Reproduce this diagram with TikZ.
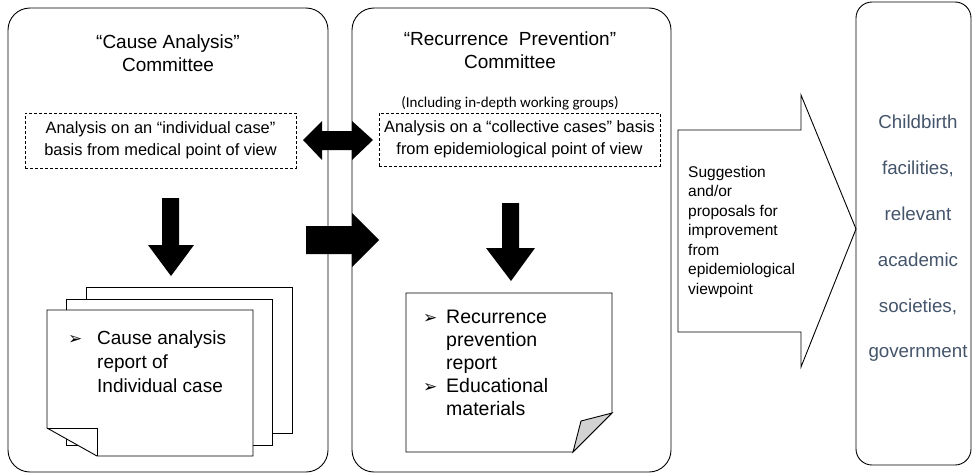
\documentclass[tikz,border=0pt]{standalone}
\usepackage{fontspec}
\setmainfont{Liberation Sans}
\newfontfamily\symfont{DejaVu Sans}
\newfontfamily\calfont{Carlito}
\usepackage{tikz}
\usetikzlibrary{positioning}
\definecolor{slate}{HTML}{44546A}
\tikzstyle{panel} = [rectangle, rounded corners=22pt, draw=black, line width=0.9pt]
\tikzstyle{dbox} = [rectangle, draw=black, dash pattern=on 3pt off 2pt, line width=0.7pt, align=center, font=\fontsize{16.4}{22}\selectfont]
\tikzstyle{blk} = [fill=black, draw=none]
\tikzstyle{sheet} = [fill=white, draw=black, line width=0.9pt]
\newcommand{\bul}{{\symfont\fontsize{17}{17}\selectfont ➢}}

\begin{document}
\begin{tikzpicture}[x=1pt, y=-1pt]
 \useasboundingbox (0,0) rectangle (973,474);

 % committees and receivers
 \node (cause) [panel, minimum width=320pt, minimum height=464pt] at (168,240) {};
 \node (recur) [panel, minimum width=319pt, minimum height=464pt] at (511.5,240) {};
 \node (target) [panel, rounded corners=16pt, minimum width=115pt, minimum height=463pt] at (913.5,233.5) {};

 \node (causetitle) [align=center, font=\fontsize{19}{23}\selectfont] at (168,53.5) {“Cause Analysis”\\Committee};
 \node (recurtitle) [align=center, font=\fontsize{19}{23}\selectfont] at (510,50) {“Recurrence\ \ Prevention”\\Committee};
 \node (wg) [font=\calfont\fontsize{15}{17}\selectfont] at (510,103) {(Including in-depth working groups)};

 \node (indiv) [dbox, minimum width=271pt, minimum height=55pt] at (160.5,140.5) {Analysis on an “individual case”\\basis from medical point of view};
 \node (collect) [dbox, minimum width=281pt, minimum height=53pt] at (519.5,139.5) {Analysis on a “collective cases” basis\\from epidemiological point of view};

 % block arrows
 \fill[blk] (303,140) -- (322,121) -- (322,131) -- (352,131) -- (352,121) -- (373,140) -- (352,160) -- (352,150) -- (322,150) -- (322,160) -- cycle;
 \fill[blk] (306,226) -- (352,226) -- (352,213) -- (379,240) -- (352,267) -- (352,254) -- (306,254) -- cycle;
 \fill[blk] (162,198) -- (179,198) -- (179,245) -- (194,245) -- (171,276) -- (148,245) -- (162,245) -- cycle;
 \fill[blk] (502,203) -- (519,203) -- (519,248) -- (535,248) -- (511,281) -- (486,248) -- (502,248) -- cycle;

 % cause analysis reports
 \draw[sheet] (86,287) rectangle (292,433);
 \draw[sheet] (66,299) rectangle (272,445);
 \draw[sheet] (47,310) -- (253,310) -- (253,456) -- (97,456) -- (47,428) -- cycle;
 \draw[line width=0.9pt] (47,428) -- (97,428) -- (97,456);
 \node (causerep) [anchor=west, inner sep=0, font=\fontsize{19}{24}\selectfont] at (68,364) {\begin{tabular}{@{}l@{}l@{}}
   \makebox[29pt][l]{\bul} & Cause analysis\\
   & report of\\
   & Individual case
 \end{tabular}};

 % recurrence prevention report
 \draw[sheet] (406,293) -- (612,293) -- (612,413) -- (573,452) -- (406,452) -- cycle;
 \draw[sheet, fill=gray!35] (612,413) -- (581,421) -- (573,452) -- cycle;
 \node (recurrep) [anchor=west, inner sep=0, font=\fontsize{19.5}{23}\selectfont] at (423,364.5) {\begin{tabular}{@{}l@{}l@{}}
   \makebox[23pt][l]{\bul} & Recurrence\\
   & prevention\\
   & report\\
   \makebox[23pt][l]{\bul} & Educational\\
   & materials
 \end{tabular}};

 % suggestion arrow
 \draw[line width=0.9pt] (678,130) -- (801,130) -- (801,95) -- (856,229) -- (801,367) -- (801,332) -- (678,332) -- cycle;
 \node (suggest) [anchor=west, align=left, inner sep=0, font=\fontsize{15.5}{19.5}\selectfont] at (688,231.5) {Suggestion\\and/or\\proposals for\\improvement\\from\\epidemiological\\viewpoint};

 \node (targettext) [align=center, text=slate, font=\fontsize{18.75}{45.8}\selectfont] at (918,238.5) {Childbirth\\facilities,\\relevant\\academic\\societies,\\government};
\end{tikzpicture}
\end{document}
